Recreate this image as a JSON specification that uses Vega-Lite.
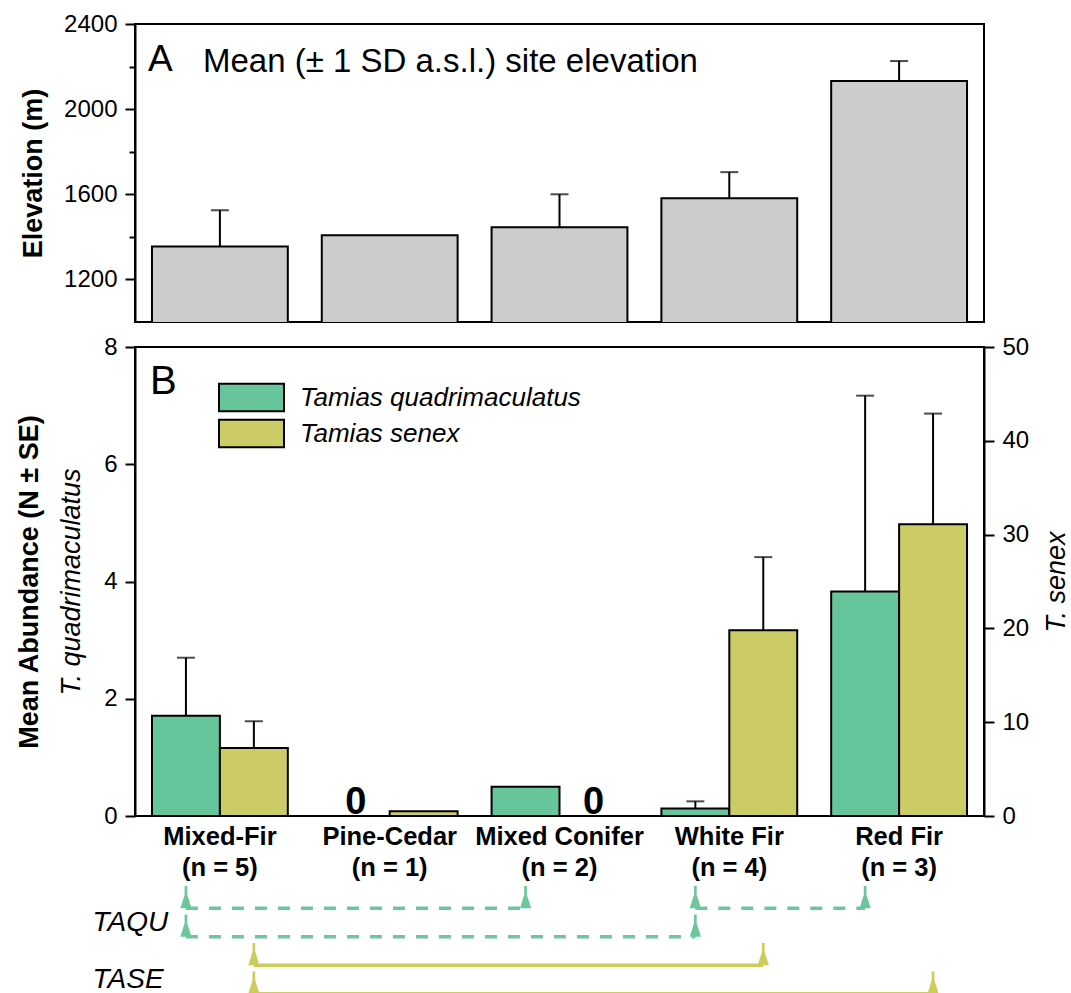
{
  "$schema": "https://vega.github.io/schema/vega-lite/v6.json",
  "padding": {"left": 14, "top": 11, "right": 0, "bottom": 0},
  "config": {
    "font": "Liberation Sans",
    "view": {"stroke": "black", "strokeWidth": 2},
    "axis": {"grid": false, "labelColor": "black", "titleColor": "black", "domainColor": "black", "tickColor": "black", "domainWidth": 2, "tickWidth": 2, "labelFontSize": 24, "tickSize": 10, "labelPadding": 8, "titleFontSize": 27, "titleFontWeight": "bold", "labelFont": "Liberation Sans", "titleFont": "Liberation Sans"}
  },
  "datasets": {
    "elev": [
      {"site": "Mixed-Fir", "elev": 1355, "upper": 1525},
      {"site": "Pine-Cedar", "elev": 1407, "upper": null},
      {"site": "Mixed Conifer", "elev": 1445, "upper": 1600},
      {"site": "White Fir", "elev": 1581, "upper": 1704},
      {"site": "Red Fir", "elev": 2132, "upper": 2226}
    ],
    "abund": [
      {"species": "Tamias quadrimaculatus", "site": "Mixed-Fir", "mean": 1.71, "upper": 2.70},
      {"species": "Tamias quadrimaculatus", "site": "Pine-Cedar", "mean": 0, "upper": null},
      {"species": "Tamias quadrimaculatus", "site": "Mixed Conifer", "mean": 0.5, "upper": null},
      {"species": "Tamias quadrimaculatus", "site": "White Fir", "mean": 0.13, "upper": 0.25},
      {"species": "Tamias quadrimaculatus", "site": "Red Fir", "mean": 3.83, "upper": 7.17},
      {"species": "Tamias senex", "site": "Mixed-Fir", "mean": 7.25, "upper": 10.1},
      {"species": "Tamias senex", "site": "Pine-Cedar", "mean": 0.5, "upper": null},
      {"species": "Tamias senex", "site": "Mixed Conifer", "mean": 0, "upper": null},
      {"species": "Tamias senex", "site": "White Fir", "mean": 19.8, "upper": 27.6},
      {"species": "Tamias senex", "site": "Red Fir", "mean": 31.1, "upper": 42.9}
    ],
    "sig": [
      {"species": "Tamias quadrimaculatus", "code": "TAQU", "row": 1, "seg": "a", "site": "Mixed-Fir"},
      {"species": "Tamias quadrimaculatus", "code": "TAQU", "row": 1, "seg": "a", "site": "Mixed Conifer"},
      {"species": "Tamias quadrimaculatus", "code": "TAQU", "row": 1, "seg": "b", "site": "White Fir"},
      {"species": "Tamias quadrimaculatus", "code": "TAQU", "row": 1, "seg": "b", "site": "Red Fir"},
      {"species": "Tamias quadrimaculatus", "code": "TAQU", "row": 2, "seg": "c", "site": "Mixed-Fir"},
      {"species": "Tamias quadrimaculatus", "code": "TAQU", "row": 2, "seg": "c", "site": "White Fir"},
      {"species": "Tamias senex", "code": "TASE", "row": 3, "seg": "d", "site": "Mixed-Fir"},
      {"species": "Tamias senex", "code": "TASE", "row": 3, "seg": "d", "site": "White Fir"},
      {"species": "Tamias senex", "code": "TASE", "row": 4, "seg": "e", "site": "Mixed-Fir"},
      {"species": "Tamias senex", "code": "TASE", "row": 4, "seg": "e", "site": "Red Fir"}
    ]
  },
  "spacing": 11,
  "vconcat": [
    {
      "width": 849,
      "height": 298,
      "data": {"name": "elev"},
      "resolve": {"axis": {"y": "independent"}},
      "layer": [
        {
          "mark": {"type": "bar", "fill": "#cccccc", "stroke": "black", "strokeWidth": 2, "clip": true},
          "encoding": {
            "x": {"field": "site", "type": "nominal", "scale": {"domain": ["Mixed-Fir", "Pine-Cedar", "Mixed Conifer", "White Fir", "Red Fir"], "paddingInner": 0.2, "paddingOuter": 0.1}, "axis": null},
            "y": {"field": "elev", "type": "quantitative", "scale": {"domain": [1000, 2400], "nice": false, "zero": false}, "axis": {"values": [1200, 1600, 2000, 2400], "format": "d", "title": "Elevation (m)", "titlePadding": 16}}
          }
        },
        {
          "transform": [{"filter": "datum.upper != null"}],
          "layer": [
            {
              "mark": {"type": "rule", "color": "black", "strokeWidth": 2},
              "encoding": {
                "x": {"field": "site", "type": "nominal", "axis": null},
                "y": {"field": "elev", "type": "quantitative", "axis": {"orient": "left", "values": [1400, 1800, 2200], "labels": false, "tickSize": 6, "domain": false, "title": null}},
                "y2": {"field": "upper"}
              }
            },
            {
              "mark": {"type": "tick", "color": "black", "thickness": 2, "size": 18},
              "encoding": {
                "x": {"field": "site", "type": "nominal", "axis": null},
                "y": {"field": "upper", "type": "quantitative"}
              }
            }
          ]
        },
        {
          "data": {"values": [{"label": "A"}]},
          "mark": {"type": "text", "fontSize": 37, "align": "left", "baseline": "alphabetic", "dx": -4},
          "encoding": {
            "x": {"datum": "Mixed-Fir", "bandPosition": 0, "axis": null},
            "y": {"datum": 2178, "axis": null},
            "text": {"field": "label"}
          }
        },
        {
          "data": {"values": [{"label": "Mean (± 1 SD a.s.l.) site elevation"}]},
          "mark": {"type": "text", "fontSize": 33, "align": "left", "baseline": "alphabetic", "dx": 51},
          "encoding": {
            "x": {"datum": "Mixed-Fir", "bandPosition": 0, "axis": null},
            "y": {"datum": 2175, "axis": null},
            "text": {"field": "label"}
          }
        }
      ]
    },
    {
      "spacing": 3,
      "vconcat": [
        {
          "width": 849,
          "height": 469,
          "data": {"name": "abund"},
          "resolve": {"scale": {"y": "independent"}, "axis": {"y": "independent"}},
          "layer": [
            {
              "transform": [{"filter": "datum.species == 'Tamias quadrimaculatus'"}],
              "layer": [
                {
                  "mark": {"type": "bar", "stroke": "black", "strokeWidth": 2},
                  "encoding": {
                    "x": {"field": "site", "type": "nominal", "scale": {"domain": ["Mixed-Fir", "Pine-Cedar", "Mixed Conifer", "White Fir", "Red Fir"], "paddingInner": 0.2, "paddingOuter": 0.1},
                      "axis": {"title": null, "labelAngle": 0, "labelFontWeight": "bold", "labelFontSize": 25.5, "ticks": false, "labelPadding": 8, "labelLineHeight": 31, "domain": false,
                        "labelExpr": "datum.label == 'Mixed-Fir' ? ['Mixed-Fir', '(n = 5)'] : datum.label == 'Pine-Cedar' ? ['Pine-Cedar', '(n = 1)'] : datum.label == 'Mixed Conifer' ? ['Mixed Conifer', '(n = 2)'] : datum.label == 'White Fir' ? ['White Fir', '(n = 4)'] : ['Red Fir', '(n = 3)']"}},
                    "xOffset": {"field": "species", "type": "nominal", "scale": {"domain": ["Tamias quadrimaculatus", "Tamias senex"]}},
                    "y": {"field": "mean", "type": "quantitative", "scale": {"domain": [0, 8], "nice": false}, "axis": {"orient": "left", "values": [0, 2, 4, 6, 8], "format": "d", "title": "T. quadrimaculatus", "titleFontStyle": "italic", "titleFontWeight": "normal", "titlePadding": 18}},
                    "fill": {"field": "species", "type": "nominal", "scale": {"domain": ["Tamias quadrimaculatus", "Tamias senex"], "range": ["#66C59A", "#CCCC66"]},
                      "legend": {"orient": "none", "legendX": 99, "legendY": 356, "title": null, "symbolType": "M-2,-0.84H2V0.84H-2Z", "symbolSize": 1056, "symbolStrokeColor": "black", "symbolStrokeWidth": 2, "symbolOpacity": 1, "labelFontSize": 26, "labelFontStyle": "italic", "labelColor": "black", "labelOffset": 31, "labelLimit": 500, "rowPadding": -1.5}}
                  }
                },
                {
                  "transform": [{"filter": "datum.upper != null"}],
                  "mark": {"type": "rule", "color": "black", "strokeWidth": 2},
                  "encoding": {
                    "x": {"field": "site", "type": "nominal"},
                    "xOffset": {"field": "species", "type": "nominal"},
                    "y": {"field": "mean", "type": "quantitative"},
                    "y2": {"field": "upper"}
                  }
                },
                {
                  "transform": [{"filter": "datum.upper != null"}],
                  "mark": {"type": "tick", "color": "black", "thickness": 2, "size": 18},
                  "encoding": {
                    "x": {"field": "site", "type": "nominal"},
                    "xOffset": {"field": "species", "type": "nominal"},
                    "y": {"field": "upper", "type": "quantitative"}
                  }
                }
              ]
            },
            {
              "transform": [{"filter": "datum.species == 'Tamias senex'"}],
              "layer": [
                {
                  "mark": {"type": "bar", "stroke": "black", "strokeWidth": 2},
                  "encoding": {
                    "x": {"field": "site", "type": "nominal"},
                    "xOffset": {"field": "species", "type": "nominal"},
                    "y": {"field": "mean", "type": "quantitative", "scale": {"domain": [0, 50], "nice": false}, "axis": {"orient": "right", "values": [0, 10, 20, 30, 40, 50], "format": "d", "title": "T. senex", "titleFontStyle": "italic", "titleFontWeight": "normal", "titleAngle": 270, "titleBaseline": "top", "titlePadding": 15}},
                    "fill": {"field": "species", "type": "nominal"}
                  }
                },
                {
                  "transform": [{"filter": "datum.upper != null"}],
                  "mark": {"type": "rule", "color": "black", "strokeWidth": 2},
                  "encoding": {
                    "x": {"field": "site", "type": "nominal"},
                    "xOffset": {"field": "species", "type": "nominal"},
                    "y": {"field": "mean", "type": "quantitative"},
                    "y2": {"field": "upper"}
                  }
                },
                {
                  "transform": [{"filter": "datum.upper != null"}],
                  "mark": {"type": "tick", "color": "black", "thickness": 2, "size": 18},
                  "encoding": {
                    "x": {"field": "site", "type": "nominal"},
                    "xOffset": {"field": "species", "type": "nominal"},
                    "y": {"field": "upper", "type": "quantitative"}
                  }
                }
              ]
            },
            {
              "layer": [
                {
                  "transform": [{"filter": "datum.mean == 0"}],
                  "mark": {"type": "text", "fontSize": 38, "fontWeight": "bold", "baseline": "alphabetic", "dy": -2},
                  "encoding": {
                    "x": {"field": "site", "type": "nominal"},
                    "xOffset": {"field": "species", "type": "nominal"},
                    "y": {"field": "mean", "type": "quantitative", "scale": {"domain": [0, 8], "nice": false}, "axis": {"orient": "left", "labels": false, "ticks": false, "domain": false, "title": "Mean Abundance (N ± SE)", "titlePadding": 92}},
                    "text": {"field": "mean", "type": "quantitative", "format": ".0f"}
                  }
                },
                {
                  "data": {"values": [{"label": "B"}]},
                  "mark": {"type": "text", "fontSize": 40, "align": "left", "baseline": "alphabetic", "dx": -2},
                  "encoding": {
                    "x": {"datum": "Mixed-Fir", "bandPosition": 0},
                    "y": {"datum": 7.2},
                    "text": {"field": "label"}
                  }
                }
              ]
            }
          ]
        },
        {
          "width": 849,
          "height": 114,
          "view": {"stroke": null},
          "data": {"name": "sig"},
          "layer": [
            {
              "transform": [{"filter": "datum.code == 'TAQU'"}],
              "layer": [
                {
                  "mark": {"type": "line", "color": "#6CC79C", "strokeWidth": 3.5, "strokeDash": [12, 11]},
                  "encoding": {
                    "x": {"field": "site", "type": "nominal", "scale": {"domain": ["Mixed-Fir", "Pine-Cedar", "Mixed Conifer", "White Fir", "Red Fir"], "paddingInner": 0.2, "paddingOuter": 0.1}, "axis": null},
                    "xOffset": {"field": "species", "type": "nominal", "scale": {"domain": ["Tamias quadrimaculatus", "Tamias senex"]}},
                    "y": {"field": "row", "type": "quantitative", "scale": {"domain": [0.5, 4.5], "reverse": true, "nice": false, "zero": false},
                      "axis": {"values": [1.5, 3.5], "labelExpr": "datum.value < 2 ? 'TAQU' : 'TASE'", "labelFontStyle": "italic", "labelFontSize": 28, "labelAlign": "left", "labelBaseline": "middle", "labelPadding": 43, "tickSize": 0, "ticks": false, "domain": false, "title": null}},
                    "detail": {"field": "seg", "type": "nominal"}
                  }
                },
                {
                  "mark": {"type": "point", "shape": "M-0.25,0L-0.06,-0.6L-0.06,-1L0.06,-1L0.06,-0.6L0.25,0Z", "size": 2000, "filled": true, "color": "#6CC79C", "opacity": 1},
                  "encoding": {
                    "x": {"field": "site", "type": "nominal", "axis": null},
                    "xOffset": {"field": "species", "type": "nominal"},
                    "y": {"field": "row", "type": "quantitative"}
                  }
                }
              ]
            },
            {
              "transform": [{"filter": "datum.code == 'TASE'"}],
              "layer": [
                {
                  "mark": {"type": "line", "color": "#CCCC5A", "strokeWidth": 3.5},
                  "encoding": {
                    "x": {"field": "site", "type": "nominal", "axis": null},
                    "xOffset": {"field": "species", "type": "nominal"},
                    "y": {"field": "row", "type": "quantitative"},
                    "detail": {"field": "seg", "type": "nominal"}
                  }
                },
                {
                  "mark": {"type": "point", "shape": "M-0.25,0L-0.06,-0.6L-0.06,-1L0.06,-1L0.06,-0.6L0.25,0Z", "size": 2000, "filled": true, "color": "#CCCC5A", "opacity": 1},
                  "encoding": {
                    "x": {"field": "site", "type": "nominal", "axis": null},
                    "xOffset": {"field": "species", "type": "nominal"},
                    "y": {"field": "row", "type": "quantitative"}
                  }
                }
              ]
            }
          ]
        }
      ]
    }
  ]
}
